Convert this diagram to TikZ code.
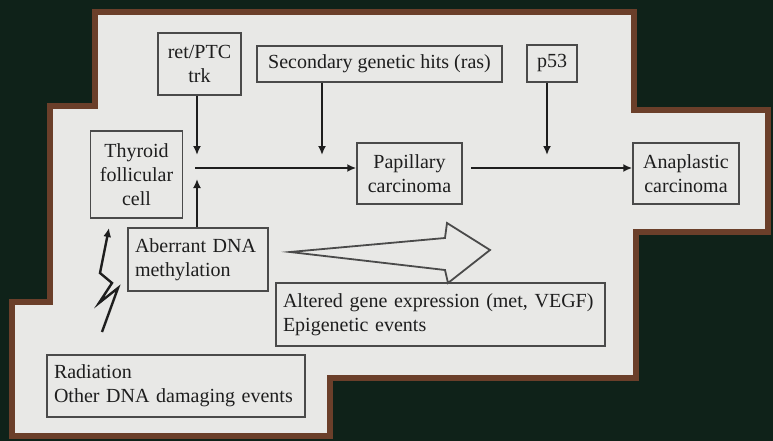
\documentclass[tikz,border=0pt]{standalone}
\usepackage{fontspec}
\setmainfont{Liberation Serif}
\usetikzlibrary{arrows.meta}
\definecolor{bgdark}{HTML}{0F2219}
\definecolor{panel}{HTML}{E8E8E6}
\definecolor{rim}{HTML}{6B3F2A}
\definecolor{ink}{HTML}{1E1E1E}
\definecolor{boxline}{HTML}{4A4A4A}
\tikzset{
  box/.style={draw=boxline, line width=1.5pt, inner sep=0pt, text=ink,
    font=\fontsize{20}{24}\selectfont, align=center},
  lbox/.style={box, align=left, inner xsep=7pt},
  arr/.style={draw=ink, line width=2pt, -{Latex[length=9pt,width=8pt]}},
  hollow/.style={draw=boxline, line width=1.8pt, line join=miter},
}
\begin{document}
\begin{tikzpicture}[x=1pt,y=-1pt]
\fill[bgdark] (0,0) rectangle (773,441);
\useasboundingbox (0,0) rectangle (773,441);
% panel
\draw[rim, line width=5.5pt, fill=panel, line join=miter]
  (95,12) -- (634,12) -- (634,110) -- (768,110) -- (768,232) -- (636,232)
  -- (636,378) -- (330,378) -- (330,436) -- (12,436) -- (12,302)
  -- (50,302) -- (50,106) -- (95,106) -- cycle;
% boxes
\node[box, minimum width=83pt, minimum height=62pt] (ret) at (199.5,64) {ret/PTC\\trk};
\node[box, minimum width=245pt, minimum height=36pt] (sec) at (379.5,64) {Secondary genetic hits (ras)};
\node[box, minimum width=50pt, minimum height=37pt] (p53) at (552,63.5) {p53};
\node[box, minimum width=92pt, minimum height=87pt] (thy) at (136.5,174.5) {Thyroid\\follicular\\cell};
\node[box, minimum width=105pt, minimum height=61pt] (pap) at (409.5,173.5) {Papillary\\carcinoma};
\node[box, minimum width=106pt, minimum height=61pt] (ana) at (686,173.5) {Anaplastic\\carcinoma};
\node[lbox, text width=126pt, minimum height=63pt] (abe) at (198,259.5) {Aberrant DNA\\methylation};
\node[lbox, text width=315pt, minimum height=63pt] (alt) at (440.5,314.5) {Altered gene expression (met, VEGF)\\Epigenetic events};
\node[lbox, text width=244pt, minimum height=62pt] (rad) at (176,386) {Radiation\\Other DNA damaging events};
% connectors
\coordinate (j1) at (197,155);
\coordinate (h0) at (195,168);
\coordinate (j3) at (197,179);
\coordinate (s2) at (322,155);
\coordinate (p2) at (547,155);
\coordinate (h1) at (471,168);
\draw[arr] (ret.south -| j1) -- (j1);
\draw[arr] (h0) -- (pap.west |- h0);
\draw[arr] (abe.north -| j3) -- (j3);
\draw[arr] (sec.south -| s2) -- (s2);
\draw[arr] (p53.south -| p2) -- (p2);
\draw[arr] (h1) -- (ana.west |- h1);
% hollow arrow
\draw[hollow] (290,252) -- (445,238) -- (447,223) -- (490,250) -- (448,283) -- (445,270) -- cycle;
% lightning
\coordinate (lb) at (102,332);
\coordinate (lt) at (109,228);
\draw[arr, line join=miter, line width=2.4pt] (lb) -- (118,288) -- (99,303) -- (112,283) -- (100,273) -- (lt);
\end{tikzpicture}
\end{document}
